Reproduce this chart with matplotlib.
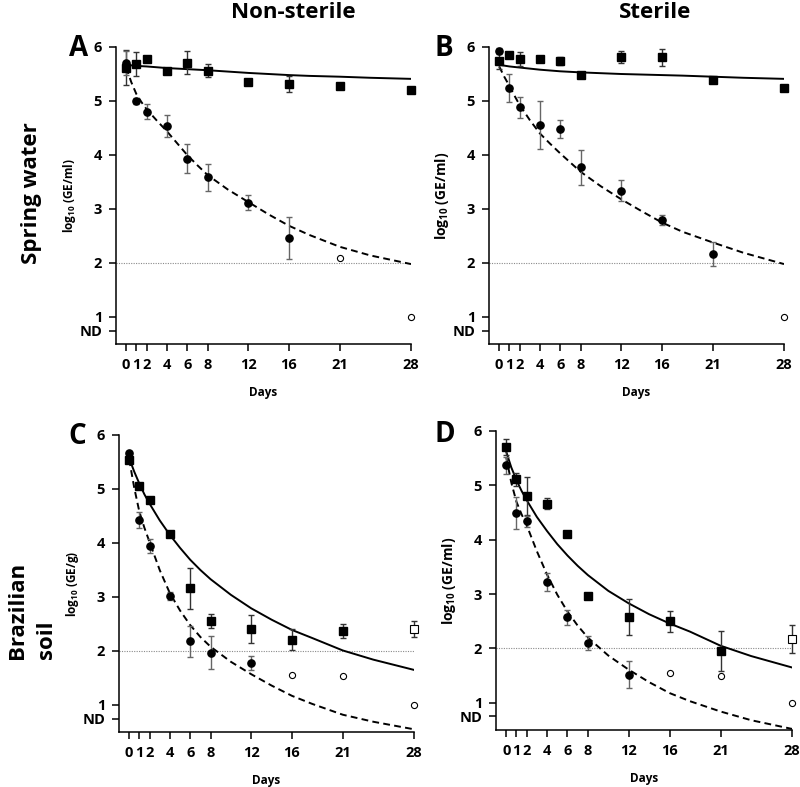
import matplotlib
matplotlib.use("Agg")
import matplotlib.pyplot as plt

plt.rcParams["font.family"] = ["Open Sans", "DejaVu Sans"]
plt.rcParams["font.weight"] = "bold"
plt.rcParams["mathtext.fontset"] = "custom"
plt.rcParams["mathtext.rm"] = "Open Sans:bold"
plt.rcParams["mathtext.bf"] = "Open Sans:bold"

# sampling days and tick labels
days = [0, 1, 2, 4, 6, 8, 12, 16, 21, 28]
day_labels = ["0", "1", "2", "4", "6", "8", "12", "16", "21", "28"]
y_ticks = [0.75, 1, 2, 3, 4, 5, 6]
y_labels = ["ND", "1", "2", "3", "4", "5", "6"]
detection_limit = 2
fit_days = [0, 0.5, 1, 1.5, 2, 3, 4, 5, 6, 7, 8, 10, 12, 14, 16, 18, 21, 24, 28]

# A: spring water, non-sterile
a_sq = [5.62, 5.68, 5.78, 5.55, 5.71, 5.56, 5.36, 5.31, 5.27, 5.20]
a_sq_err = [0.32, 0.22, 0, 0.03, 0.21, 0.12, 0, 0.15, 0, 0.03]
a_sq_open = []
a_ci = [5.71, 5.00, 4.80, 4.54, 3.93, 3.59, 3.12, 2.47, 2.10, 1.00]
a_ci_err = [0.22, 0.06, 0.14, 0.21, 0.27, 0.25, 0.14, 0.39, 0, 0]
a_ci_open = [21, 28]
a_fit_solid = [5.67, 5.66, 5.65, 5.645, 5.64, 5.625, 5.61, 5.60, 5.59, 5.58,
               5.57, 5.545, 5.52, 5.50, 5.48, 5.465, 5.45, 5.43, 5.41]
a_fit_dash = [5.62, 5.35, 5.13, 4.98, 4.85, 4.64, 4.44, 4.22, 4.00, 3.81,
              3.63, 3.36, 3.13, 2.90, 2.69, 2.52, 2.30, 2.14, 1.98]

# B: spring water, sterile
b_sq = [5.75, 5.85, 5.77, 5.78, 5.74, 5.48, 5.82, 5.81, 5.39, 5.25]
b_sq_err = [0.15, 0, 0.13, 0, 0.08, 0, 0.11, 0.16, 0, 0.04]
b_sq_open = []
b_ci = [5.93, 5.24, 4.88, 4.56, 4.48, 3.77, 3.34, 2.80, 2.17, 1.00]
b_ci_err = [0.06, 0.26, 0.19, 0.44, 0.16, 0.32, 0.19, 0.09, 0.22, 0]
b_ci_open = [28]
b_fit_solid = [5.67, 5.655, 5.64, 5.63, 5.62, 5.60, 5.58, 5.565, 5.55, 5.54,
               5.53, 5.515, 5.50, 5.49, 5.48, 5.47, 5.45, 5.43, 5.41]
b_fit_dash = [5.64, 5.45, 5.28, 5.10, 4.93, 4.65, 4.40, 4.21, 4.03, 3.86,
              3.69, 3.42, 3.18, 2.96, 2.75, 2.58, 2.38, 2.19, 1.98]

# C: Brazilian soil, non-sterile
c_sq = [5.54, 5.06, 4.79, 4.16, 3.16, 2.56, 2.40, 2.21, 2.37, 2.41]
c_sq_err = [0.05, 0, 0, 0.03, 0.38, 0.13, 0.26, 0.20, 0.13, 0.15]
c_sq_open = [28]
c_ci = [5.67, 4.42, 3.94, 3.02, 2.18, 1.97, 1.78, 1.55, 1.54, 1.00]
c_ci_err = [0.04, 0.15, 0.13, 0.07, 0.29, 0.30, 0.13, 0, 0, 0]
c_ci_open = [16, 21, 28]
c_fit_solid = [5.57, 5.32, 5.10, 4.90, 4.73, 4.42, 4.15, 3.91, 3.69, 3.50,
               3.33, 3.04, 2.79, 2.58, 2.39, 2.24, 2.01, 1.84, 1.65]
c_fit_dash = [5.55, 5.02, 4.58, 4.28, 4.02, 3.50, 3.07, 2.75, 2.48, 2.26,
              2.08, 1.80, 1.57, 1.36, 1.17, 1.02, 0.82, 0.69, 0.55]

# D: Brazilian soil, sterile
d_sq = [5.70, 5.11, 4.81, 4.66, 4.10, 2.96, 2.58, 2.50, 1.95, 2.17]
d_sq_err = [0.15, 0.12, 0.35, 0.10, 0, 0.05, 0.33, 0.19, 0.37, 0.26]
d_sq_open = [28]
d_ci = [5.37, 4.49, 4.34, 3.22, 2.57, 2.10, 1.52, 1.55, 1.50, 1.00]
d_ci_err = [0.16, 0.30, 0.10, 0.16, 0.14, 0.12, 0.25, 0, 0, 0]
d_ci_open = [16, 21, 28]
d_fit_solid = [5.62, 5.33, 5.10, 4.90, 4.73, 4.42, 4.16, 3.92, 3.71, 3.52,
               3.35, 3.06, 2.83, 2.63, 2.46, 2.31, 2.05, 1.86, 1.65]
d_fit_dash = [5.52, 5.05, 4.70, 4.47, 4.27, 3.79, 3.36, 2.99, 2.68, 2.42,
              2.20, 1.87, 1.61, 1.38, 1.18, 1.03, 0.84, 0.68, 0.52]


def draw_series(ax, values, errors, open_days, marker, size, err_color):
    ex = [d for d, e in zip(days, errors) if e > 0]
    ey = [v for v, e in zip(values, errors) if e > 0]
    ee = [e for e in errors if e > 0]
    ax.errorbar(ex, ey, yerr=ee, fmt="none", ecolor=err_color, elinewidth=1.0,
                capsize=2.3, capthick=1.0, clip_on=False, zorder=3)
    fx = [d for d in days if d not in open_days]
    fy = [v for d, v in zip(days, values) if d not in open_days]
    ax.plot(fx, fy, marker, ms=size, color="black", ls="none", clip_on=False, zorder=4)
    ox = [d for d in days if d in open_days]
    oy = [v for d, v in zip(days, values) if d in open_days]
    ax.plot(ox, oy, marker, ms=size * 0.85, mfc="white", mec="black", mew=0.8,
            ls="none", clip_on=False, zorder=4)


def draw_panel(ax, sq, sq_err, sq_open, ci, ci_err, ci_open, solid, dash,
               ylabel, ylabel_size):
    ax.axhline(detection_limit, color="#8a8a8a", lw=0.8, ls=(0, (1, 1.2)), zorder=1)
    ax.plot(fit_days, solid, color="black", lw=1.4, zorder=2)
    ax.plot(fit_days, dash, color="black", lw=1.4, ls=(0, (3.5, 2.2)), zorder=2)
    draw_series(ax, sq, sq_err, sq_open, "s", 6.2, "#333333")
    draw_series(ax, ci, ci_err, ci_open, "o", 5.2, "#666666")

    ax.set_xlim(-1, 28)
    ax.set_ylim(0.5, 6)
    ax.set_xticks(days)
    ax.set_xticklabels(day_labels)
    ax.set_yticks(y_ticks)
    ax.set_yticklabels(y_labels)
    ax.tick_params(direction="out", length=5, width=1.1, labelsize=10.5, pad=5)
    for side in ("top", "right"):
        ax.spines[side].set_visible(False)
    for side in ("left", "bottom"):
        ax.spines[side].set_linewidth(1.1)
    ax.set_xlabel("Days", fontsize=8.5, fontweight="bold")
    ax.xaxis.set_label_coords(0.5, -0.14)
    ax.set_ylabel(ylabel, fontsize=ylabel_size, fontweight="bold")
    ax.yaxis.set_label_coords(-0.13, 0.5)


fig = plt.figure(figsize=(8, 7.87), dpi=100)
W, H = 800, 787

panels = [
    ("A", (116, 344, 295, 297), (79, 49), a_sq, a_sq_err, a_sq_open, a_ci, a_ci_err, a_ci_open,
     a_fit_solid, a_fit_dash, r"log$_{10}$ (GE/ml)", 8.5),
    ("B", (489, 344, 295, 297), (444, 49), b_sq, b_sq_err, b_sq_open, b_ci, b_ci_err, b_ci_open,
     b_fit_solid, b_fit_dash, r"log$_{10}$ (GE/ml)", 10),
    ("C", (119, 732, 295, 297), (77, 437), c_sq, c_sq_err, c_sq_open, c_ci, c_ci_err, c_ci_open,
     c_fit_solid, c_fit_dash, r"log$_{10}$ (GE/g)", 8.5),
    ("D", (496, 730, 296, 299), (445, 434), d_sq, d_sq_err, d_sq_open, d_ci, d_ci_err, d_ci_open,
     d_fit_solid, d_fit_dash, r"log$_{10}$ (GE/ml)", 10),
]

for letter, (left, bottom, width, height), (lx, ly), *series, ylabel, ysize in panels:
    ax = fig.add_axes([left / W, 1 - bottom / H, width / W, height / H])
    draw_panel(ax, *series, ylabel, ysize)
    fig.text(lx / W, 1 - ly / H, letter, fontsize=20, fontweight="bold",
             ha="center", va="center")

fig.text(293 / W, 1 - 13 / H, "Non-sterile", fontsize=16, fontweight="bold",
         ha="center", va="center")
fig.text(655 / W, 1 - 13 / H, "Sterile", fontsize=16, fontweight="bold",
         ha="center", va="center")
fig.text(32 / W, 1 - 193 / H, "Spring water", fontsize=16, fontweight="bold",
         rotation=90, ha="center", va="center")
fig.text(32 / W, 1 - 610 / H, "Brazilian\nsoil", fontsize=16, fontweight="bold",
         rotation=90, ha="center", va="center", multialignment="left", linespacing=1.45)

fig.savefig("out.png", dpi=100)
plt.close(fig)
